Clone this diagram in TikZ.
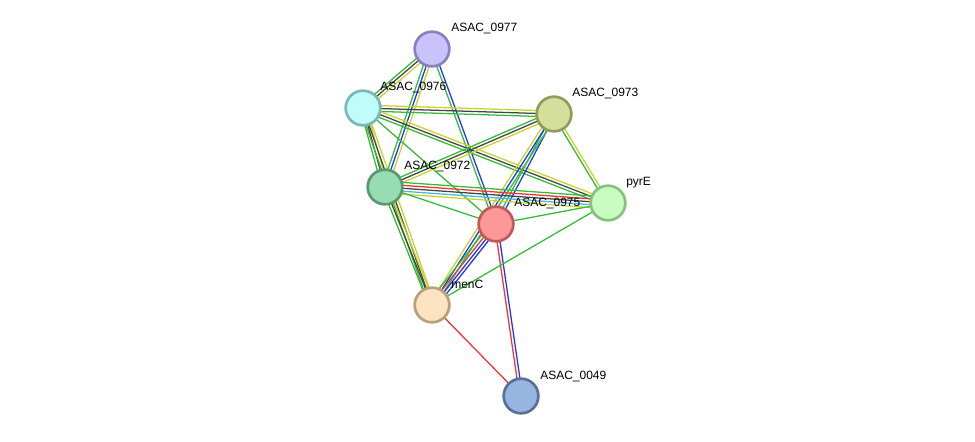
\documentclass[tikz,border=0pt]{standalone}
\usepackage{fontspec}
\newfontfamily\labfont{Liberation Sans}
\usetikzlibrary{calc, backgrounds}

\definecolor{nbh}{HTML}{33BB33}
\definecolor{fus}{HTML}{EE3333}
\definecolor{coo}{HTML}{2233EE}
\definecolor{cox}{HTML}{444444}
\definecolor{dbs}{HTML}{44BBDD}
\definecolor{txt}{HTML}{C4D42C}

\tikzset{
  prot/.style = {circle, inner sep=0pt, minimum size=26pt, line width=2pt},
  lab/.style = {anchor=base west, inner sep=0pt, font=\labfont\fontsize{9pt}{10pt}\selectfont, text=black},
  link/.style = {line width=0.95pt}
}

% parallel evidence lines between two proteins
\newcommand{\bundle}[3]{%
  \foreach \col/\off in {#3}{
    \draw[link, \col] ($(#1)!\off*2.2pt!90:(#2)$) -- ($(#2)!\off*2.2pt!-90:(#1)$);
  }}

\begin{document}
\begin{tikzpicture}[x=0.75pt, y=-0.75pt]
\useasboundingbox (0,0) rectangle (975,442);

% proteins
\node[prot, draw={rgb,255:red,138;green,128;blue,192}, fill={rgb,255:red,201;green,194;blue,251}] (n0977) at (432,49) {};
\node[prot, draw={rgb,255:red,122;green,184;blue,184}, fill={rgb,255:red,192;green,252;blue,251}] (n0976) at (363,108) {};
\node[prot, draw={rgb,255:red,144;green,156;blue,88}, fill={rgb,255:red,211;green,223;blue,154}] (n0973) at (554,114) {};
\node[prot, draw={rgb,255:red,90;green,152;blue,112}, fill={rgb,255:red,151;green,220;blue,178}] (n0972) at (385,187) {};
\node[prot, draw={rgb,255:red,192;green,88;blue,88}, fill={rgb,255:red,252;green,152;blue,152}] (n0975) at (496,224) {};
\node[prot, draw={rgb,255:red,136;green,192;blue,128}, fill={rgb,255:red,200;green,252;blue,192}] (pyrE) at (608,203) {};
\node[prot, draw={rgb,255:red,184;green,160;blue,122}, fill={rgb,255:red,253;green,227;blue,194}] (menC) at (432,305) {};
\node[prot, draw={rgb,255:red,88;green,112;blue,152}, fill={rgb,255:red,152;green,180;blue,224}] (n0049) at (521,396) {};

% labels
\node[lab] (l0977) at ($(n0977)+(19,-17)$) {ASAC\_0977};
\node[lab] (l0976) at ($(n0976)+(17,-17)$) {ASAC\_0976};
\node[lab] (l0973) at ($(n0973)+(18,-17)$) {ASAC\_0973};
\node[lab] (l0972) at ($(n0972)+(19,-17)$) {ASAC\_0972};
\node[lab] (l0975) at ($(n0975)+(18,-17)$) {ASAC\_0975};
\node[lab] (lpyrE) at ($(pyrE)+(18,-17)$) {pyrE};
\node[lab] (lmenC) at ($(menC)+(19,-17)$) {menC};
\node[lab] (l0049) at ($(n0049)+(19,-17)$) {ASAC\_0049};

% interactions
\begin{scope}[on background layer]
\bundle{n0977}{n0976}{nbh/-1, cox/0, txt/1}
\bundle{n0977}{n0972}{nbh/-1, coo/0, txt/1}
\bundle{n0977}{n0975}{nbh/-0.5, coo/0.5}
\bundle{n0976}{n0973}{nbh/-1, cox/0, txt/1}
\bundle{n0976}{pyrE}{nbh/-1, cox/0, txt/1}
\bundle{n0976}{n0972}{nbh/-1, cox/0, txt/1}
\bundle{n0976}{menC}{nbh/-1, cox/0, txt/1}
\bundle{n0976}{n0975}{nbh/0}
\bundle{n0973}{n0972}{nbh/-1, cox/0, txt/1}
\bundle{n0973}{n0975}{nbh/-0.5, coo/0.5}
\bundle{n0973}{menC}{nbh/1, coo/0, txt/-1}
\bundle{n0973}{pyrE}{nbh/-0.5, txt/0.5}
\bundle{n0972}{pyrE}{nbh/2, fus/1, cox/0, dbs/-1, txt/-2}
\bundle{n0972}{n0975}{nbh/0}
\bundle{n0972}{menC}{nbh/-1, cox/0, txt/1}
\bundle{n0975}{pyrE}{nbh/0}
\bundle{n0975}{menC}{nbh/-1.5, fus/-0.5, coo/0.5, coo/1.5}
\bundle{n0975}{n0049}{fus/-0.5, coo/0.5}
\bundle{menC}{pyrE}{nbh/0}
\bundle{menC}{n0049}{fus/0}
\end{scope}

\end{tikzpicture}
\end{document}
